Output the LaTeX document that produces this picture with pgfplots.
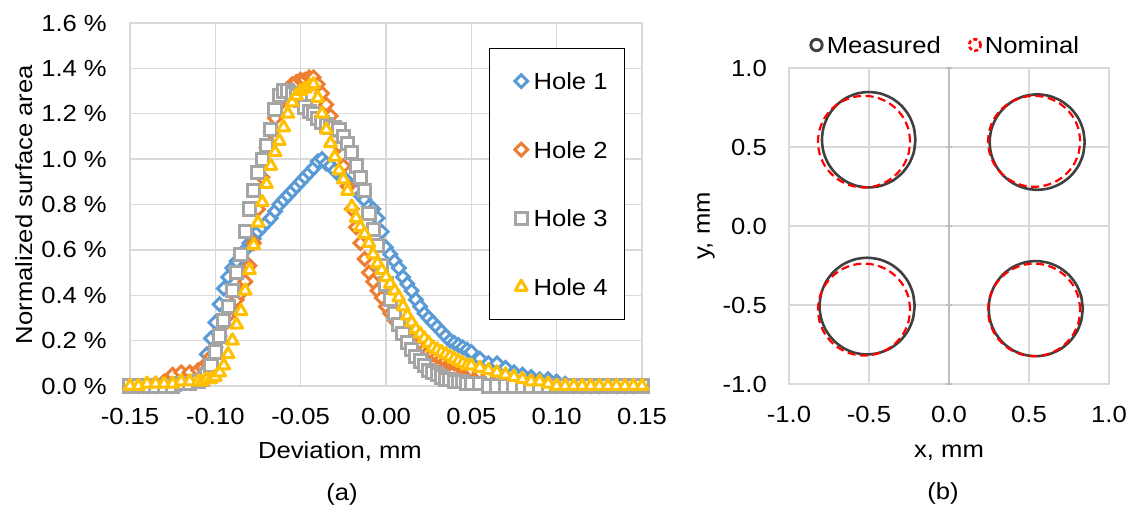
\documentclass[border=0pt]{standalone}
\usepackage{pgfplots}
\pgfplotsset{compat=1.18}
\usepackage{pgfplotstable}
\usepackage{fontspec}
\setmainfont{Liberation Sans}[FakeStretch=1.1]

\definecolor{hblue}{HTML}{5B9BD5}
\definecolor{horange}{HTML}{ED7D31}
\definecolor{hgray}{HTML}{A5A5A5}
\definecolor{hgold}{HTML}{FFC000}
\definecolor{gridgray}{HTML}{D9D9D9}
\definecolor{axisgray}{HTML}{BFBFBF}
\definecolor{measgray}{HTML}{404040}

% deviation histograms, % of surface area per bin, holes 1-4
\pgfplotstableread{
x       h1    h2    h3    h4
-0.150  0     0     0     0
-0.145  0     0     0     0
-0.140  0     0     0     0.01
-0.135  0     0.01  0     0.01
-0.130  0     0.02  0     0.01
-0.125  0     0.05  0     0.01
-0.120  0.01  0.06  0.01  0.02
-0.115  0.02  0.06  0.01  0.02
-0.110  0.04  0.07  0.02  0.02
-0.1075 0.08  0.08  0.03  0.02
-0.1050 0.14  0.10  0.05  0.03
-0.1025 0.21  0.13  0.09  0.03
-0.1000 0.28  0.17  0.15  0.04
-0.0975 0.36  0.22  0.22  0.06
-0.0950 0.43  0.27  0.29  0.09
-0.0925 0.48  0.31  0.35  0.14
-0.0900 0.52  0.35  0.42  0.20
-0.0875 0.55  0.38  0.50  0.27
-0.0850 0.58  0.41  0.58  0.33
-0.0825 0.60  0.46  0.68  0.42
-0.0800 0.63  0.53  0.78  0.51
-0.0775 0.65  0.63  0.86  0.62
-0.0750 0.68  0.78  0.94  0.72
-0.0725 0.70  0.92  1.00  0.81
-0.0700 0.72  1.05  1.06  0.89
-0.0675 0.74  1.12  1.13  0.97
-0.0650 0.77  1.18  1.22  1.03
-0.0625 0.80  1.24  1.28  1.08
-0.0600 0.82  1.28  1.30  1.14
-0.0575 0.84  1.31  1.30  1.20
-0.0550 0.86  1.33  1.29  1.25
-0.0525 0.88  1.34  1.28  1.28
-0.0500 0.90  1.35  1.26  1.30
-0.0475 0.92  1.35  1.23  1.31
-0.0450 0.94  1.36  1.21  1.32
-0.0425 0.96  1.36  1.20  1.33
-0.0400 0.99  1.33  1.18  1.27
-0.0375 1.00  1.29  1.16  1.20
-0.0350 0.98  1.24  1.15  1.13
-0.0325 0.97  1.19  1.14  1.07
-0.0300 0.95  1.13  1.14  1.01
-0.0275 0.93  1.06  1.13  0.95
-0.0250 0.92  0.97  1.10  0.91
-0.0225 0.90  0.88  1.07  0.86
-0.0200 0.88  0.78  1.03  0.79
-0.0175 0.86  0.70  0.97  0.74
-0.0150 0.84  0.63  0.92  0.70
-0.0125 0.82  0.56  0.86  0.67
-0.0100 0.79  0.50  0.76  0.63
-0.0075 0.78  0.46  0.69  0.58
-0.0050 0.74  0.42  0.62  0.54
-0.0025 0.68  0.39  0.53  0.51
 0.0000 0.61  0.35  0.45  0.48
 0.0025 0.58  0.32  0.38  0.45
 0.0050 0.55  0.29  0.32  0.42
 0.0075 0.52  0.27  0.27  0.39
 0.0100 0.48  0.25  0.23  0.35
 0.0125 0.45  0.22  0.19  0.31
 0.0150 0.42  0.20  0.16  0.28
 0.0175 0.38  0.18  0.13  0.25
 0.0200 0.35  0.17  0.11  0.23
 0.0225 0.32  0.16  0.09  0.21
 0.0250 0.30  0.15  0.07  0.19
 0.0275 0.28  0.14  0.06  0.17
 0.0300 0.26  0.13  0.05  0.16
 0.0325 0.24  0.12  0.04  0.15
 0.0350 0.22  0.11  0.03  0.14
 0.0375 0.20  0.10  0.03  0.13
 0.0400 0.19  0.10  0.02  0.12
 0.0425 0.18  0.09  0.02  0.11
 0.0450 0.17  0.08  0.02  0.10
 0.0475 0.16  0.08  0.01  0.09
 0.0500 0.15  0.07  0.01  0.09
 0.055  0.12  0.06  0.01  0.08
 0.060  0.10  0.05  0     0.07
 0.065  0.10  0.05  0     0.06
 0.070  0.08  0.04  0     0.05
 0.075  0.06  0.03  0     0.04
 0.080  0.05  0.02  0     0.03
 0.085  0.04  0.02  0     0.02
 0.090  0.03  0.01  0     0.02
 0.095  0.03  0.01  0     0.01
 0.100  0.02  0     0     0
 0.105  0.01  0     0     0
 0.110  0     0     0     0
 0.115  0     0     0     0
 0.120  0     0     0     0
 0.125  0     0     0     0
 0.130  0     0     0     0
 0.135  0     0     0     0
 0.140  0     0     0     0
 0.145  0     0     0     0
 0.150  0     0     0     0
}\deviation

% unit circle (15 degree steps), scaled to each hole outline
\pgfplotstableread{
c        s
 1.0000  0.0000
 0.9659  0.2588
 0.8660  0.5000
 0.7071  0.7071
 0.5000  0.8660
 0.2588  0.9659
 0.0000  1.0000
-0.2588  0.9659
-0.5000  0.8660
-0.7071  0.7071
-0.8660  0.5000
-0.9659  0.2588
-1.0000  0.0000
-0.9659 -0.2588
-0.8660 -0.5000
-0.7071 -0.7071
-0.5000 -0.8660
-0.2588 -0.9659
 0.0000 -1.0000
 0.2588 -0.9659
 0.5000 -0.8660
 0.7071 -0.7071
 0.8660 -0.5000
 0.9659 -0.2588
 1.0000  0.0000
}\unitcircle

\pgfplotsset{
  panel/.style={
    scale only axis, anchor=south west,
    /pgf/number format/assume math mode=true,
    grid=major,
    major grid style={gridgray, line width=1.3pt},
    axis line style={gridgray, line width=1.3pt},
    major tick length=0pt,
    scaled x ticks=false, scaled y ticks=false,
    xticklabel style={anchor=north, inner sep=0pt},
    yticklabel style={anchor=east, inner sep=0pt},
  },
  meas/.style={measgray, line width=2.6pt, smooth},
  nom/.style={red, line width=2.2pt, smooth, dash pattern=on 8pt off 4.5pt},
}

\begin{document}
\begin{tikzpicture}[font=\fontsize{23.3}{28}\selectfont]
\useasboundingbox (0,0) rectangle (1131pt,507pt);

% ---------- (a) deviation distribution ----------
\begin{axis}[panel,
  at={(130pt,121pt)}, width=512pt, height=363pt,
  xmin=-0.15, xmax=0.15, ymin=0, ymax=1.6,
  xtick={-0.15,-0.10,-0.05,0,0.05,0.10,0.15},
  ytick={0,0.2,0.4,0.6,0.8,1.0,1.2,1.4,1.6},
  xticklabel={\pgfmathprintnumber[fixed,fixed zerofill,precision=2]{\tick}},
  yticklabel={\pgfmathprintnumber[fixed,fixed zerofill,precision=1]{\tick}~\%},
  xticklabel style={yshift=-22pt},
  yticklabel style={xshift=-23pt},
  xlabel={Deviation, mm},
  ylabel={Normalized surface area},
  xlabel style={at={(axis description cs:0.41,0)}, anchor=base, yshift=-72pt},
  ylabel style={at={(axis description cs:-0.191,0.5)}, anchor=base},
  clip=false,
  legend cell align=left,
  legend image code/.code={\path (0pt,0pt) (21pt,0pt); \draw[#1] plot coordinates {(14pt,0pt)};},
  legend style={at={(axis description cs:0.7007,0.9318)}, anchor=north west,
    draw=black, line width=1.5pt, fill=white,
    inner xsep=17pt, inner ysep=24.25pt, row sep=51.9pt, column sep=4.5pt,
    nodes={inner sep=0pt, text height=16.7pt, text depth=0pt}},
]
\addplot[hblue, only marks, mark=square*, mark size=4.5pt,
  mark options={rotate=45, fill=white, solid, line width=3pt}] table[x=x, y=h1] {\deviation};
\addlegendentry{Hole 1}
\addplot[horange, only marks, mark=square*, mark size=4.5pt,
  mark options={rotate=45, fill=white, solid, line width=3pt}] table[x=x, y=h2] {\deviation};
\addlegendentry{Hole 2}
\addplot[hgray, only marks, mark=square*, mark size=6.1pt,
  mark options={fill=white, solid, line width=3pt}] table[x=x, y=h3] {\deviation};
\addlegendentry{Hole 3}
\addplot[hgold, only marks, mark=triangle*, mark size=6.8pt,
  mark options={fill=white, solid, line width=3pt, line join=round}] table[x=x, y=h4] {\deviation};
\addlegendentry{Hole 4}
\end{axis}

% ---------- (b) hole outlines ----------
\begin{axis}[panel,
  at={(789pt,123pt)}, width=320pt, height=316pt,
  xmin=-1, xmax=1, ymin=-1, ymax=1,
  xtick={-1,-0.5,0,0.5,1}, ytick={-1,-0.5,0,0.5,1},
  xticklabel={\pgfmathprintnumber[fixed,fixed zerofill,precision=1]{\tick}},
  yticklabel={\pgfmathprintnumber[fixed,fixed zerofill,precision=1]{\tick}},
  xticklabel style={yshift=-22.5pt},
  yticklabel style={xshift=-22pt},
  xlabel={x, mm}, ylabel={y, mm},
  xlabel style={at={(axis description cs:0.5,0)}, anchor=base, yshift=-73pt},
  ylabel style={at={(axis description cs:-0.247,0.5)}, anchor=base},
  clip=false,
  legend columns=2,
  legend style={at={(axis description cs:0.0594,1.0728)}, anchor=west,
    draw=none, fill=none, inner sep=0pt, column sep=2pt,
    nodes={inner sep=0pt, text height=16.7pt, text depth=0pt},
    /tikz/every even column/.append style={column sep=26pt}},
]
% vertical axis through x = 0
\addplot[axisgray, line width=1.3pt, forget plot] coordinates {(0,-1) (0,1)};
\addplot[axisgray, only marks, mark=-, mark size=3pt, line width=1.3pt, forget plot]
  coordinates {(0,-1) (0,-0.5) (0,0) (0,0.5) (0,1)};

% measured outlines
\addplot[meas, legend image code/.code={\path (0pt,0pt) (14pt,0pt); \draw[measgray, line width=2.9pt] (7pt,0pt) circle (5.7pt);}]
  table[x expr={-0.502+0.292*\thisrow{c}}, y expr={0.546+0.302*\thisrow{s}}] {\unitcircle};
\addlegendentry{Measured}
\addplot[meas, forget plot] table[x expr={0.551+0.297*\thisrow{c}}, y expr={0.531+0.302*\thisrow{s}}] {\unitcircle};
\addplot[meas, forget plot] table[x expr={-0.512+0.297*\thisrow{c}}, y expr={-0.507+0.306*\thisrow{s}}] {\unitcircle};
\addplot[meas, forget plot] table[x expr={0.542+0.294*\thisrow{c}}, y expr={-0.523+0.301*\thisrow{s}}] {\unitcircle};

% nominal outlines
\addplot[nom, legend image code/.code={\path (0pt,0pt) (14pt,0pt); \draw[red, line width=2.6pt, dash pattern=on 4pt off 2.5pt] (7pt,0pt) circle (5.7pt);}]
  table[x expr={-0.531+0.288*\thisrow{c}}, y expr={0.534+0.290*\thisrow{s}}] {\unitcircle};
\addlegendentry{Nominal}
\addplot[nom, forget plot] table[x expr={0.532+0.288*\thisrow{c}}, y expr={0.536+0.288*\thisrow{s}}] {\unitcircle};
\addplot[nom, forget plot] table[x expr={-0.531+0.288*\thisrow{c}}, y expr={-0.529+0.291*\thisrow{s}}] {\unitcircle};
\addplot[nom, forget plot] table[x expr={0.532+0.288*\thisrow{c}}, y expr={-0.531+0.293*\thisrow{s}}] {\unitcircle};
\end{axis}

\node[anchor=base] at (342pt,7pt) {(a)};
\node[anchor=base] at (943pt,8pt) {(b)};
\end{tikzpicture}
\end{document}
